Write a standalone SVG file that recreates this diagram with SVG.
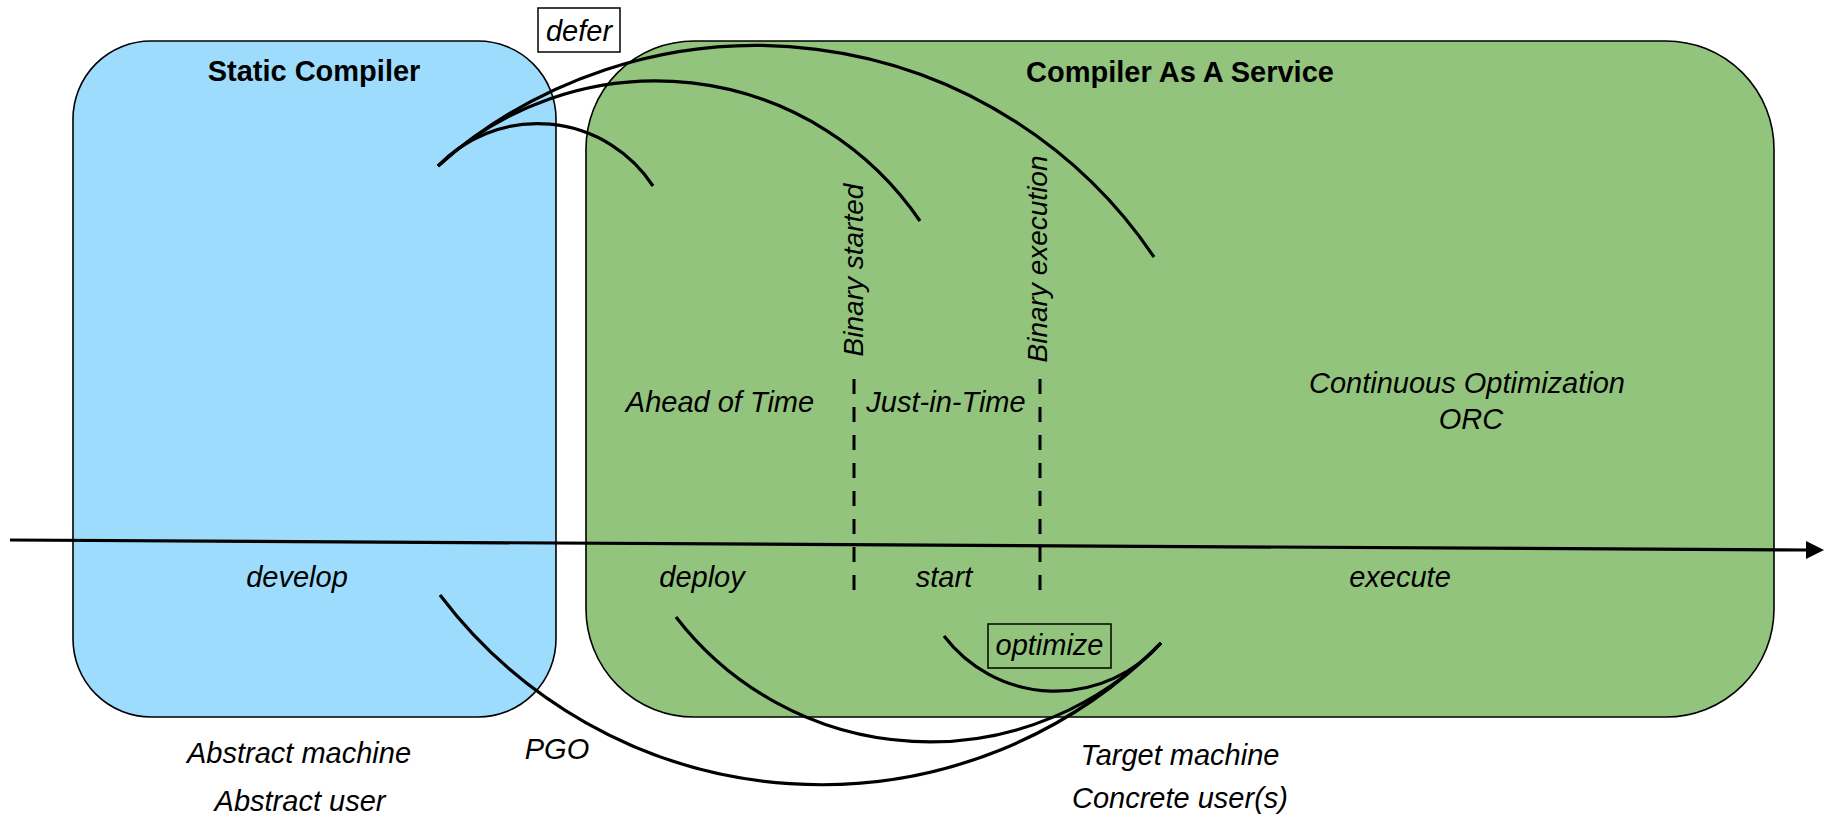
<svg xmlns="http://www.w3.org/2000/svg" width="1824" height="816" viewBox="0 0 1824 816">
  <style>
    .box { stroke: #000; stroke-width: 1.6; }
    .title { font-family: "Liberation Sans", Arial, sans-serif; font-weight: bold; font-size: 29px; fill: #000; text-anchor: middle; }
    .lbl { font-family: "Liberation Sans", Arial, sans-serif; font-style: italic; font-size: 29px; fill: #000; text-anchor: middle; }
    .vlbl { font-family: "Liberation Sans", Arial, sans-serif; font-style: italic; font-size: 28px; fill: #000; text-anchor: middle; }
    .arc { fill: none; stroke: #000; stroke-width: 3.2; stroke-linecap: butt; }
    .dash { fill: none; stroke: #000; stroke-width: 3; stroke-dasharray: 15 13; }
    .tag { stroke: #000; stroke-width: 1.5; }
  </style>
  <defs>
    <marker id="arrow" markerUnits="userSpaceOnUse" markerWidth="18" markerHeight="18" refX="0" refY="9" orient="auto">
      <path d="M0,0 L18,9 L0,18 z" fill="#000"/>
    </marker>
  </defs>

  <g id="static-compiler">
    <rect class="box" x="73" y="41" width="483" height="676" rx="78" ry="78" fill="#9ddcfd"/>
    <text class="title" x="314" y="81">Static Compiler</text>
    <text class="lbl" x="297" y="587">develop</text>
    <text class="lbl" x="299" y="763">Abstract machine</text>
    <text class="lbl" x="300" y="811">Abstract user</text>
  </g>

  <g id="compiler-as-a-service">
    <rect class="box" x="586" y="41" width="1188" height="676" rx="108" ry="108" fill="#93c47d"/>
    <text class="title" x="1180" y="82">Compiler As A Service</text>
    <text class="lbl" x="720" y="412">Ahead of Time</text>
    <text class="lbl" x="946" y="412">Just-in-Time</text>
    <text class="lbl" x="1467" y="393">Continuous Optimization</text>
    <text class="lbl" x="1471" y="429">ORC</text>
    <text class="lbl" x="702" y="587">deploy</text>
    <text class="lbl" x="944" y="587">start</text>
    <text class="lbl" x="1400" y="587">execute</text>
    <text class="lbl" x="1180" y="765">Target machine</text>
    <text class="lbl" x="1180" y="808">Concrete user(s)</text>
  </g>

  <g id="phase-markers">
    <line class="dash" x1="854" y1="379" x2="854" y2="590"/>
    <line class="dash" x1="1040" y1="379" x2="1040" y2="590"/>
    <text class="vlbl" transform="translate(863,270) rotate(-90)">Binary started</text>
    <text class="vlbl" transform="translate(1047,259) rotate(-90)">Binary execution</text>
  </g>

  <g id="connectors">
    <line x1="10" y1="540" x2="1806" y2="550" stroke="#000" stroke-width="3.2" marker-end="url(#arrow)"/>
    <path class="arc" d="M438,166 A138,138 0 0,1 653,186"/>
    <path class="arc" d="M438,166 A320,320 0 0,1 920,221"/>
    <path class="arc" d="M438,166 A480,480 0 0,1 1154,257"/>
    <path class="arc" d="M440,595 A478,478 0 0,0 1161,643"/>
    <path class="arc" d="M676,617 A320,320 0 0,0 1161,643"/>
    <path class="arc" d="M944,636 A140,140 0 0,0 1161,643"/>
  </g>

  <g id="defer">
    <rect class="tag" x="538" y="8" width="82" height="44" fill="#fff"/>
    <text class="lbl" x="579" y="41">defer</text>
  </g>

  <g id="optimize">
    <rect class="tag" x="988" y="624" width="123" height="44" fill="none"/>
    <text class="lbl" x="1049.5" y="655">optimize</text>
  </g>

  <g id="pgo">
    <text class="lbl" x="557" y="759">PGO</text>
  </g>
</svg>
